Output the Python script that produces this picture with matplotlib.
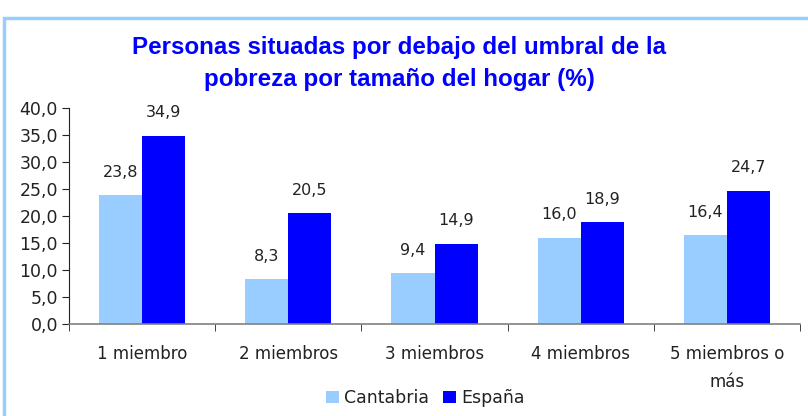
import numpy as np
import matplotlib.pyplot as plt
from matplotlib.patches import Rectangle
from matplotlib.ticker import FixedLocator, NullFormatter

categorias = ['1 miembro', '2 miembros', '3 miembros', '4 miembros', '5 miembros o\nmás']
cantabria = [23.8, 8.3, 9.4, 16.0, 16.4]
espana = [34.9, 20.5, 14.9, 18.9, 24.7]

c_cant = '#99CCFF'
c_esp = '#0000FF'
gris = '#222222'

plt.rcParams['font.family'] = ['DejaVu Sans']

fig = plt.figure(figsize=(8.08, 4.16), dpi=100)
ax = fig.add_axes([69/808, 92/416, 731/808, 216/416])

# marco
fig.patches.append(Rectangle((4/808, -0.1), 1.2, (416-17.5)/416 + 0.1, transform=fig.transFigure,
                             fill=False, edgecolor=c_cant, linewidth=2.5))

x = np.arange(len(categorias))
w = 0.295
b1 = ax.bar(x - w/2, cantabria, w, color=c_cant, label='Cantabria')
b2 = ax.bar(x + w/2, espana, w, color=c_esp, label='España')

for bars, vals in ((b1, cantabria), (b2, espana)):
    for r, v in zip(bars, vals):
        ax.annotate(f'{v:.1f}'.replace('.', ','), (r.get_x() + r.get_width()/2, v),
                    xytext=(0, 11), textcoords='offset points', ha='center', va='bottom',
                    fontsize=11.5, color=gris)

ax.set_xlim(-0.5, len(categorias) - 0.5)
ax.set_ylim(0, 40)
ax.set_yticks(np.arange(0, 40.1, 5))
ax.set_yticklabels([f'{t:.1f}'.replace('.', ',') for t in np.arange(0, 40.1, 5)])
ax.set_xticks(x)
ax.set_xticklabels(categorias, fontsize=12, color=gris, linespacing=1.75)
ax.tick_params(axis='x', length=0, pad=15)
ax.xaxis.set_minor_locator(FixedLocator(np.arange(-0.5, len(categorias), 1)))
ax.xaxis.set_minor_formatter(NullFormatter())
ax.tick_params(axis='x', which='minor', length=5, color=gris, direction='out')
ax.tick_params(axis='y', length=5, labelsize=12.5, labelcolor=gris, color=gris, pad=3)

for s in ('top', 'right'):
    ax.spines[s].set_visible(False)
ax.spines['left'].set_color(gris)
ax.spines['bottom'].set_color('#808080')
ax.spines['bottom'].set_linewidth(1.2)

fig.text(399/808, 1 - 63.5/416, 'Personas situadas por debajo del umbral de la\npobreza por tamaño del hogar (%)',
         ha='center', va='center', fontsize=17.4, fontweight='bold', color=c_esp,
         family=['Liberation Sans'], linespacing=1.5)

fig.legend(handles=[b1, b2], loc='center', bbox_to_anchor=(425/808, 1 - 398/416), ncol=2,
           frameon=False, fontsize=12.5, handlelength=0.75, handleheight=0.75,
           handletextpad=0.3, columnspacing=0.8, labelcolor=gris)

fig.savefig('out.png', dpi=100)
